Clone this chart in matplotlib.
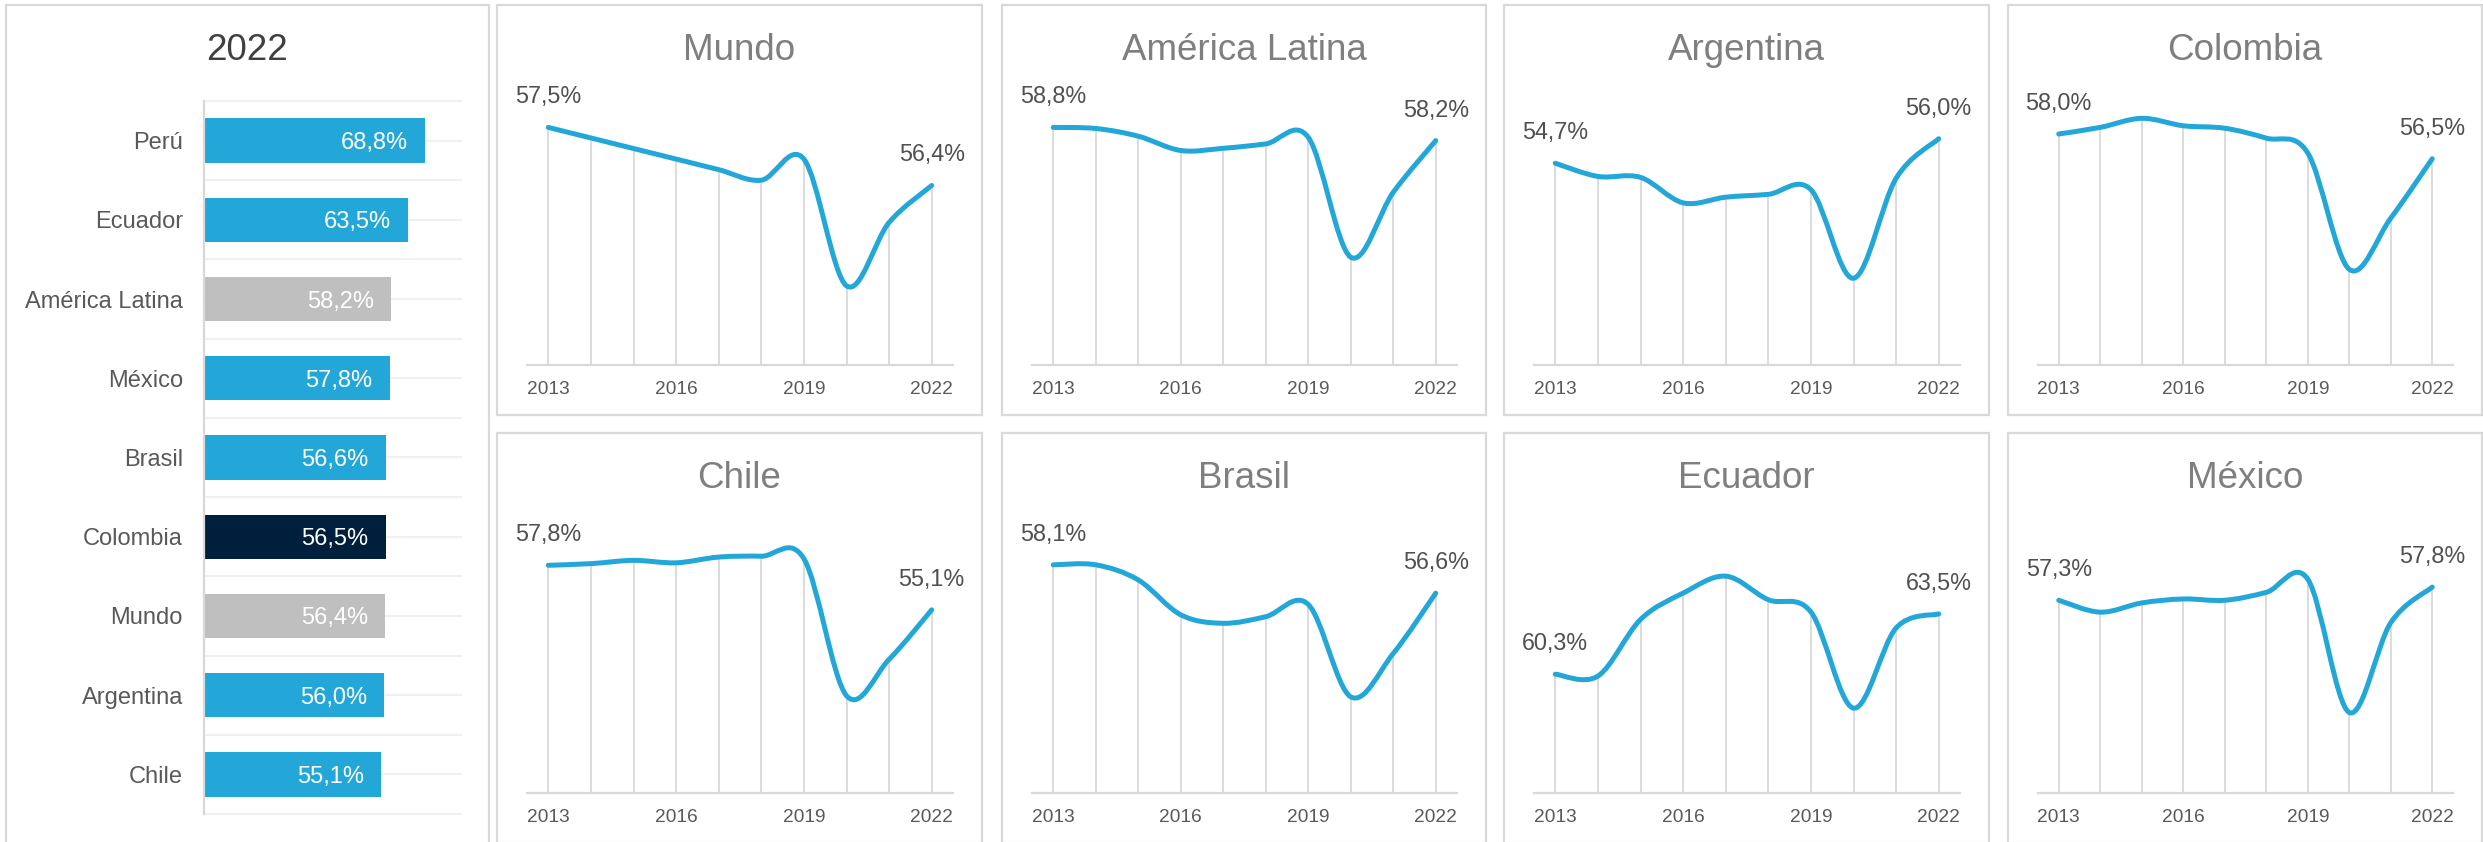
import numpy as np
import matplotlib
matplotlib.use("Agg")
import matplotlib.pyplot as plt
from matplotlib.path import Path
from matplotlib.patches import PathPatch, Rectangle

plt.rcParams['font.family'] = ['Liberation Sans', 'DejaVu Sans']

# ---------------- data ----------------
years = list(range(2013, 2023))
tick_years = [2013, 2016, 2019, 2022]

bar_title = "2022"
bar_categories = ["Perú", "Ecuador", "América Latina", "México", "Brasil",
                  "Colombia", "Mundo", "Argentina", "Chile"]
bar_values = [68.8, 63.5, 58.2, 57.8, 56.6, 56.5, 56.4, 56.0, 55.1]

mundo = [57.5, 57.3, 57.1, 56.9, 56.7, 56.5, 56.9, 54.5, 55.7, 56.4]
america_latina = [58.8, 58.75, 58.4, 57.75, 57.85, 58.05, 58.35, 52.9, 55.85, 58.2]
argentina = [54.7, 54.0, 53.95, 52.6, 52.9, 53.05, 53.3, 48.6, 53.9, 56.0]
colombia = [58.0, 58.4, 58.95, 58.5, 58.35, 57.75, 56.85, 49.8, 52.9, 56.5]
chile = [57.8, 57.9, 58.1, 57.95, 58.3, 58.35, 58.2, 49.9, 52.1, 55.1]
brasil = [58.1, 58.1, 57.3, 55.45, 55.0, 55.35, 56.0, 51.1, 53.4, 56.6]
ecuador = [60.3, 60.2, 63.2, 64.6, 65.5, 64.25, 63.6, 58.5, 62.75, 63.5]
mexico = [57.3, 56.85, 57.2, 57.35, 57.3, 57.6, 58.1, 53.05, 56.45, 57.8]

panel_names = ["Mundo", "América Latina", "Argentina", "Colombia",
               "Chile", "Brasil", "Ecuador", "México"]
panel_series = [mundo, america_latina, argentina, colombia,
                chile, brasil, ecuador, mexico]
y_ranges = [(53, 58), (48, 60), (44, 58), (44, 60),
            (44, 60), (46, 60), (54, 68), (50, 60)]

# ---------------- style ----------------
BLUE = "#23A7D8"
NAVY = "#001F3D"
GRAY_BAR = "#BFBFBF"
BORDER = "#D9D9D9"
GRID = "#F0F0F0"
TXT = "#595959"

W, H, DPI = 2483, 842, 100
fig = plt.figure(figsize=(W / DPI, H / DPI), dpi=DPI)
fig.patch.set_facecolor("white")
PT = 72.0 / DPI  # points per pixel


def add_px_axes(x0, y0, x1, y1):
    return fig.add_axes([x0 / W, 1 - y1 / H, (x1 - x0) / W, (y1 - y0) / H])


def panel_box(x0, y0, x1, y1):
    fig.add_artist(Rectangle((x0 / W, 1 - y1 / H), (x1 - x0) / W, (y1 - y0) / H,
                             transform=fig.transFigure, fill=False,
                             edgecolor=BORDER, lw=1.6, zorder=0))


def fmt(v):
    return f"{v:.1f}%".replace(".", ",")


# ---------------- bar panel ----------------
panel_box(6, 5, 489, 880)
fig.text(247.5 / W, 1 - 60 / H, bar_title, ha="center", va="baseline",
         fontsize=26.5, color="#404040")

axb = add_px_axes(204, 101, 461, 814)
bar_colors = []
for c in bar_categories:
    if c == "Colombia":
        bar_colors.append(NAVY)
    elif c in ("América Latina", "Mundo"):
        bar_colors.append(GRAY_BAR)
    else:
        bar_colors.append(BLUE)
pos = np.arange(len(bar_categories))
axb.barh(pos, bar_values, height=0.56, color=bar_colors, zorder=2)
axb.set_xlim(0, 80)
axb.set_ylim(len(bar_categories) - 0.5, -0.5)
for yy in np.arange(-0.5, len(bar_categories) - 0.49, 0.5):
    axb.axhline(yy, color=GRID, lw=1.5, zorder=0, clip_on=False)
for s in ("top", "right", "bottom"):
    axb.spines[s].set_visible(False)
axb.spines["left"].set_color(BORDER)
axb.spines["left"].set_linewidth(1.6)
axb.set_xticks([])
axb.set_yticks(pos)
axb.set_yticklabels(bar_categories, fontsize=17, color=TXT)
axb.tick_params(axis="y", length=0, pad=21 * PT)
for i, v in enumerate(bar_values):
    axb.annotate(fmt(v), xy=(v, i), xytext=(-17 * PT, 0), textcoords="offset points",
                 ha="right", va="center_baseline", color="white", fontsize=17, zorder=3)
axb.set_facecolor("none")


# ---------------- line panels ----------------
def smooth_path(xs, ys):
    pts = np.column_stack([xs, ys]).astype(float)
    n = len(pts)
    verts = [pts[0]]
    codes = [Path.MOVETO]
    for i in range(n - 1):
        p_prev = pts[i - 1] if i > 0 else pts[i]
        p_next2 = pts[i + 2] if i + 2 < n else pts[i + 1]
        c1 = pts[i] + (pts[i + 1] - p_prev) / 6.0
        c2 = pts[i + 1] - (p_next2 - pts[i]) / 6.0
        verts += [c1, c2, pts[i + 1]]
        codes += [Path.CURVE4] * 3
    return Path(verts, codes)


col_x = [(497, 982), (1002, 1486), (1504, 1989), (2008, 2482)]
row_y = [5, 433]

for k, (name, series, (lo, hi)) in enumerate(zip(panel_names, panel_series, y_ranges)):
    r, c = divmod(k, 4)
    px0, px1 = col_x[c]
    py0 = row_y[r]
    py1 = py0 + 410
    panel_box(px0, py0, px1, py1)
    fig.text((px0 + px1) / 2 / W, 1 - (py0 + 55) / H, name, ha="center", va="baseline",
             fontsize=26.5, color="#7F7F7F")

    ax = add_px_axes(px0 + 30, py0 + 96, px1 - 29, py0 + 360)
    ax.set_xlim(years[0] - 0.5, years[-1] + 0.5)
    ax.set_ylim(lo, hi)
    ax.set_facecolor("none")
    for s in ax.spines.values():
        s.set_visible(False)
    ax.axhline(lo, color=BORDER, lw=1.6, clip_on=False, zorder=1)
    ax.vlines(years, lo, series, color=BORDER, lw=1.3, zorder=1)
    ax.add_patch(PathPatch(smooth_path(years, series), facecolor="none",
                           edgecolor=BLUE, lw=3.6, capstyle="round",
                           joinstyle="round", zorder=3, clip_on=False))
    ax.set_yticks([])
    ax.set_xticks(tick_years)
    ax.set_xticklabels([str(t) for t in tick_years], fontsize=13.8, color=TXT)
    for lbl in ax.get_xticklabels():
        lbl.set_verticalalignment("baseline")
    ax.tick_params(axis="x", length=0, pad=29 * PT)
    for idx in (0, len(years) - 1):
        ax.annotate(fmt(series[idx]), xy=(years[idx], series[idx]),
                    xytext=(0, 24 * PT), textcoords="offset points",
                    ha="center", va="baseline", fontsize=16.8, color="#505050")

fig.savefig("out.png", dpi=DPI, facecolor="white")
